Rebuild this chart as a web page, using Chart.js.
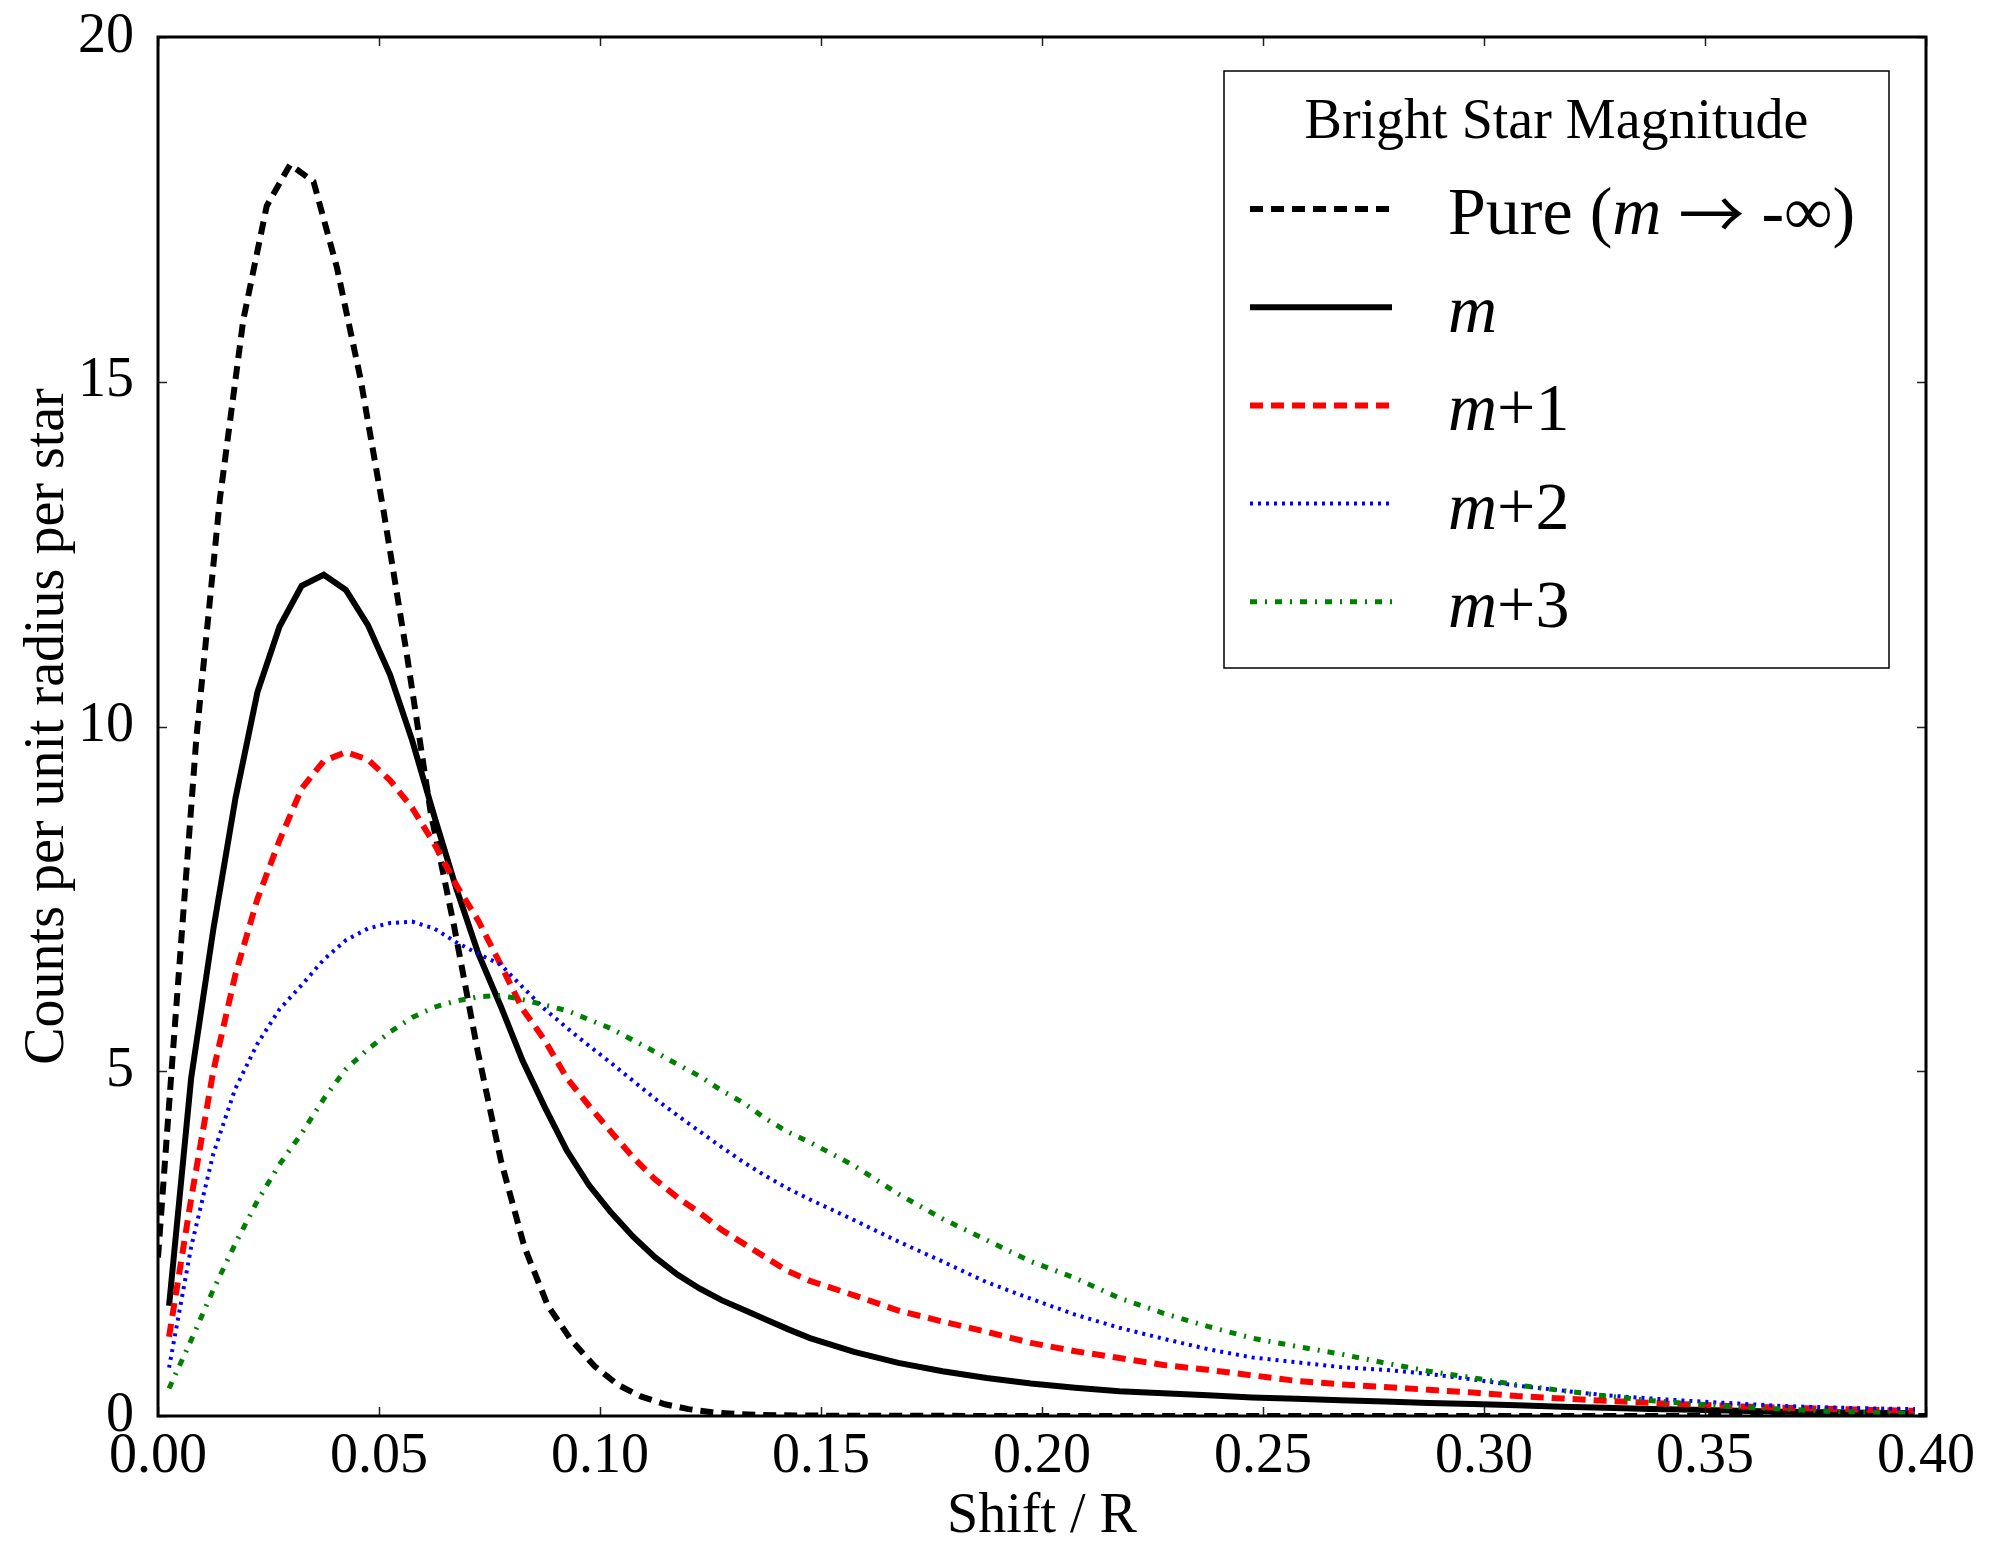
<!DOCTYPE html>
<html>
<head>
<meta charset="utf-8">
<script src="https://cdn.jsdelivr.net/npm/chart.js@4.4.1/dist/chart.umd.min.js"></script>
<style>
  html, body { margin: 0; padding: 0; background: #fff; }
  canvas { display: block; }
</style>
</head>
<body>
<canvas id="grafico" width="2002" height="1541"></canvas>
<script>
// Valores
const xs = [
  0.0025, 0.0075, 0.0125, 0.0175, 0.0225, 0.0275, 0.0325, 0.0375, 0.0425, 0.0475,
  0.0525, 0.0575, 0.0625, 0.0675, 0.0725, 0.0775, 0.0825, 0.0875, 0.0925, 0.0975,
  0.1025, 0.1075, 0.1125, 0.1175, 0.1225, 0.1275, 0.1325, 0.1375, 0.1425, 0.1475,
  0.1575, 0.1675, 0.1775, 0.1875, 0.1975, 0.2075, 0.2175, 0.2275, 0.2375, 0.2475,
  0.2575, 0.2675, 0.2775, 0.2875, 0.2975, 0.3075, 0.3175, 0.3275, 0.3375, 0.3475,
  0.3575, 0.3675, 0.3775, 0.3875, 0.3975
];

const pureXs = [
  0, 0.0034, 0.0087, 0.014, 0.0193, 0.0246, 0.0299, 0.0352, 0.0405, 0.0458,
  0.0511, 0.0564, 0.0617, 0.067, 0.0723, 0.0776, 0.0829, 0.0882, 0.0935, 0.0988,
  0.1041, 0.1094, 0.1147, 0.12, 0.1253, 0.1306, 0.1359, 0.15, 0.2, 0.25, 0.3, 0.35, 0.4
];
const pureVals = [
  2.3, 5.3, 9.85, 13.3, 15.9, 17.55, 18.15, 17.9, 16.65, 15.05,
  13.1, 11.0, 8.75, 7.1, 5.3, 3.7, 2.45, 1.6, 1.1, 0.72,
  0.45, 0.28, 0.17, 0.1, 0.055, 0.03, 0.015, 0.005, 0, 0, 0, 0, 0
];

const mVals = [
  1.6, 4.9, 7.05, 8.95, 10.5, 11.45, 12.04, 12.2, 11.98, 11.47,
  10.75, 9.8, 8.7, 7.65, 6.7, 5.95, 5.15, 4.48, 3.85, 3.35,
  2.95, 2.6, 2.3, 2.05, 1.85, 1.68, 1.54, 1.4, 1.26, 1.13,
  0.93, 0.77, 0.65, 0.55, 0.47, 0.41, 0.36, 0.33, 0.3, 0.27,
  0.25, 0.23, 0.21, 0.19, 0.175, 0.155, 0.135, 0.12, 0.1, 0.09,
  0.075, 0.063, 0.055, 0.048, 0.04
];

const m1Vals = [
  1.15, 3.15, 5.0, 6.4, 7.5, 8.35, 9.1, 9.5, 9.63, 9.52,
  9.22, 8.82, 8.3, 7.7, 7.18, 6.55, 5.9, 5.45, 4.9, 4.5,
  4.12, 3.75, 3.43, 3.17, 2.95, 2.7, 2.5, 2.3, 2.1, 1.96,
  1.75, 1.53, 1.37, 1.22, 1.06, 0.94, 0.84, 0.74, 0.67, 0.59,
  0.51, 0.46, 0.42, 0.38, 0.34, 0.29, 0.255, 0.22, 0.19, 0.165,
  0.14, 0.12, 0.105, 0.088, 0.075
];

const m2Vals = [
  0.7, 2.45, 3.8, 4.75, 5.4, 5.9, 6.25, 6.62, 6.9, 7.07,
  7.15, 7.17, 7.07, 6.87, 6.7, 6.55, 6.22, 5.9, 5.63, 5.37,
  5.12, 4.86, 4.6, 4.36, 4.13, 3.9, 3.68, 3.48, 3.3, 3.14,
  2.84, 2.53, 2.24, 1.94, 1.7, 1.47, 1.28, 1.12, 0.97, 0.85,
  0.78, 0.71, 0.67, 0.61, 0.53, 0.44, 0.37, 0.3, 0.255, 0.215,
  0.18, 0.145, 0.125, 0.11, 0.1
];

const m3Vals = [
  0.4, 1.1, 1.83, 2.5, 3.12, 3.65, 4.1, 4.6, 5.03, 5.32,
  5.57, 5.78, 5.93, 6.02, 6.08, 6.1, 6.04, 5.96, 5.88, 5.75,
  5.62, 5.45, 5.28, 5.1, 4.93, 4.72, 4.54, 4.31, 4.12, 3.97,
  3.63, 3.22, 2.86, 2.55, 2.24, 2.0, 1.71, 1.49, 1.3, 1.13,
  1.01, 0.9, 0.77, 0.65, 0.555, 0.45, 0.37, 0.29, 0.225, 0.175,
  0.13, 0.1, 0.07, 0.05, 0.035
];

const xTickVals = [0, 0.05, 0.10, 0.15, 0.20, 0.25, 0.30, 0.35, 0.40];
const yTickVals = [0, 5, 10, 15, 20];

const legendTitle = 'Bright Star Magnitude';
// cada etiqueta: [texto, estilo]  ('n' normal, 'i' cursiva, 'a' flecha)
const legendLabels = [
  [['Pure (', 'n'], ['m', 'i'], [' ', 'n'], ['\u2192', 'a'], [' -\u221E)', 'n']],
  [['m', 'i']],
  [['m', 'i'], ['+1', 'n']],
  [['m', 'i'], ['+2', 'n']],
  [['m', 'i'], ['+3', 'n']]
];

const FUENTE = "'Liberation Serif', 'DejaVu Serif', serif";
const FUENTE_FLECHA = "'Noto Sans CJK JP', 'DejaVu Serif', serif";

function puntos(xv, yv) {
  return xv.map((x, i) => ({ x: x, y: yv[i] }));
}

// Marco con ticks hacia dentro y leyenda dentro del área
const marcoYLeyenda = {
  id: 'marcoYLeyenda',
  afterDraw(chart) {
    const ctx = chart.ctx;
    const a = chart.chartArea;
    const sx = chart.scales.x;
    const sy = chart.scales.y;
    ctx.save();

    // ticks
    ctx.strokeStyle = '#222';
    ctx.lineWidth = 1.5;
    ctx.setLineDash([]);
    ctx.beginPath();
    xTickVals.forEach(v => {
      const px = Math.round(sx.getPixelForValue(v)) + 0.5;
      ctx.moveTo(px, a.bottom); ctx.lineTo(px, a.bottom - 9);
      ctx.moveTo(px, a.top); ctx.lineTo(px, a.top + 9);
    });
    yTickVals.forEach(v => {
      const py = Math.round(sy.getPixelForValue(v)) + 0.5;
      ctx.moveTo(a.left, py); ctx.lineTo(a.left + 9, py);
      ctx.moveTo(a.right, py); ctx.lineTo(a.right - 9, py);
    });
    ctx.stroke();

    // marco
    ctx.strokeStyle = '#000';
    ctx.lineWidth = 3;
    ctx.strokeRect(a.left, a.top, a.right - a.left, a.bottom - a.top);

    // leyenda
    const bx = a.right - 702, by = a.top + 34, bw = 665, bh = 597;
    ctx.fillStyle = '#fff';
    ctx.fillRect(bx, by, bw, bh);
    ctx.strokeStyle = '#000';
    ctx.lineWidth = 1.5;
    ctx.strokeRect(bx, by, bw, bh);

    ctx.fillStyle = '#000';
    ctx.textBaseline = 'alphabetic';
    ctx.textAlign = 'center';
    ctx.font = '56px ' + FUENTE;
    ctx.fillText(legendTitle, bx + bw / 2, by + 67);

    ctx.textAlign = 'left';
    chart.data.datasets.forEach((ds, i) => {
      const ly = by + 138 + i * 98.2;
      ctx.beginPath();
      ctx.strokeStyle = ds.borderColor;
      ctx.lineWidth = ds.borderWidth;
      ctx.setLineDash(ds.borderDash || []);
      ctx.moveTo(bx + 26, ly);
      ctx.lineTo(bx + 168, ly);
      ctx.stroke();
      ctx.setLineDash([]);

      let tx = bx + 224;
      legendLabels[i].forEach(seg => {
        if (seg[1] === 'a') {
          ctx.font = '66px ' + FUENTE_FLECHA;
          ctx.fillText(seg[0], tx, ly + 30);
        } else {
          ctx.font = (seg[1] === 'i' ? 'italic ' : '') + '68px ' + FUENTE;
          ctx.fillText(seg[0], tx, ly + 25);
        }
        tx += ctx.measureText(seg[0]).width;
      });
    });
    ctx.restore();
  }
};

Chart.defaults.font.family = FUENTE;
Chart.defaults.color = '#000';

new Chart(document.getElementById('grafico').getContext('2d'), {
  type: 'line',
  data: {
    datasets: [
      {
        label: 'Pure',
        data: puntos(pureXs, pureVals),
        borderColor: '#000000',
        borderWidth: 6,
        borderDash: [13, 8],
        order: 5
      },
      {
        label: 'm',
        data: puntos(xs, mVals),
        borderColor: '#000000',
        borderWidth: 6,
        order: 4
      },
      {
        label: 'm+1',
        data: puntos(xs, m1Vals),
        borderColor: '#ff0000',
        borderWidth: 6,
        borderDash: [13, 8],
        order: 3
      },
      {
        label: 'm+2',
        data: puntos(xs, m2Vals),
        borderColor: '#0000ff',
        borderWidth: 4,
        borderDash: [3, 5],
        order: 2
      },
      {
        label: 'm+3',
        data: puntos(xs, m3Vals),
        borderColor: '#008000',
        borderWidth: 5,
        borderDash: [7, 8, 2, 8],
        order: 1
      }
    ]
  },
  options: {
    responsive: false,
    animation: false,
    devicePixelRatio: 1,
    layout: { padding: { left: 0, right: 76, top: 37, bottom: 0 } },
    elements: {
      point: { radius: 0 },
      line: { tension: 0, fill: false }
    },
    plugins: {
      legend: { display: false },
      tooltip: { enabled: false }
    },
    scales: {
      x: {
        type: 'linear',
        min: 0,
        max: 0.4,
        afterBuildTicks: s => { s.ticks = xTickVals.map(v => ({ value: v })); },
        afterFit: s => { s.height = 125; },
        grid: { display: false, drawTicks: false },
        border: { display: false },
        ticks: {
          font: { size: 56 },
          padding: 8,
          maxRotation: 0,
          callback: v => Number(v).toFixed(2)
        },
        title: {
          display: true,
          text: 'Shift / R',
          font: { size: 56, lineHeight: 1 },
          padding: { top: 0, bottom: -4 }
        }
      },
      y: {
        min: 0,
        max: 20,
        afterBuildTicks: s => { s.ticks = yTickVals.map(v => ({ value: v })); },
        afterFit: s => { s.width = 158; },
        grid: { display: false, drawTicks: false },
        border: { display: false },
        ticks: {
          font: { size: 56, lineHeight: 0.4 },
          padding: 24,
          callback: v => String(v)
        },
        title: {
          display: true,
          text: 'Counts per unit radius per star',
          font: { size: 56 },
          padding: { top: 15, bottom: 0 }
        }
      }
    }
  },
  plugins: [marcoYLeyenda]
});
</script>
</body>
</html>
